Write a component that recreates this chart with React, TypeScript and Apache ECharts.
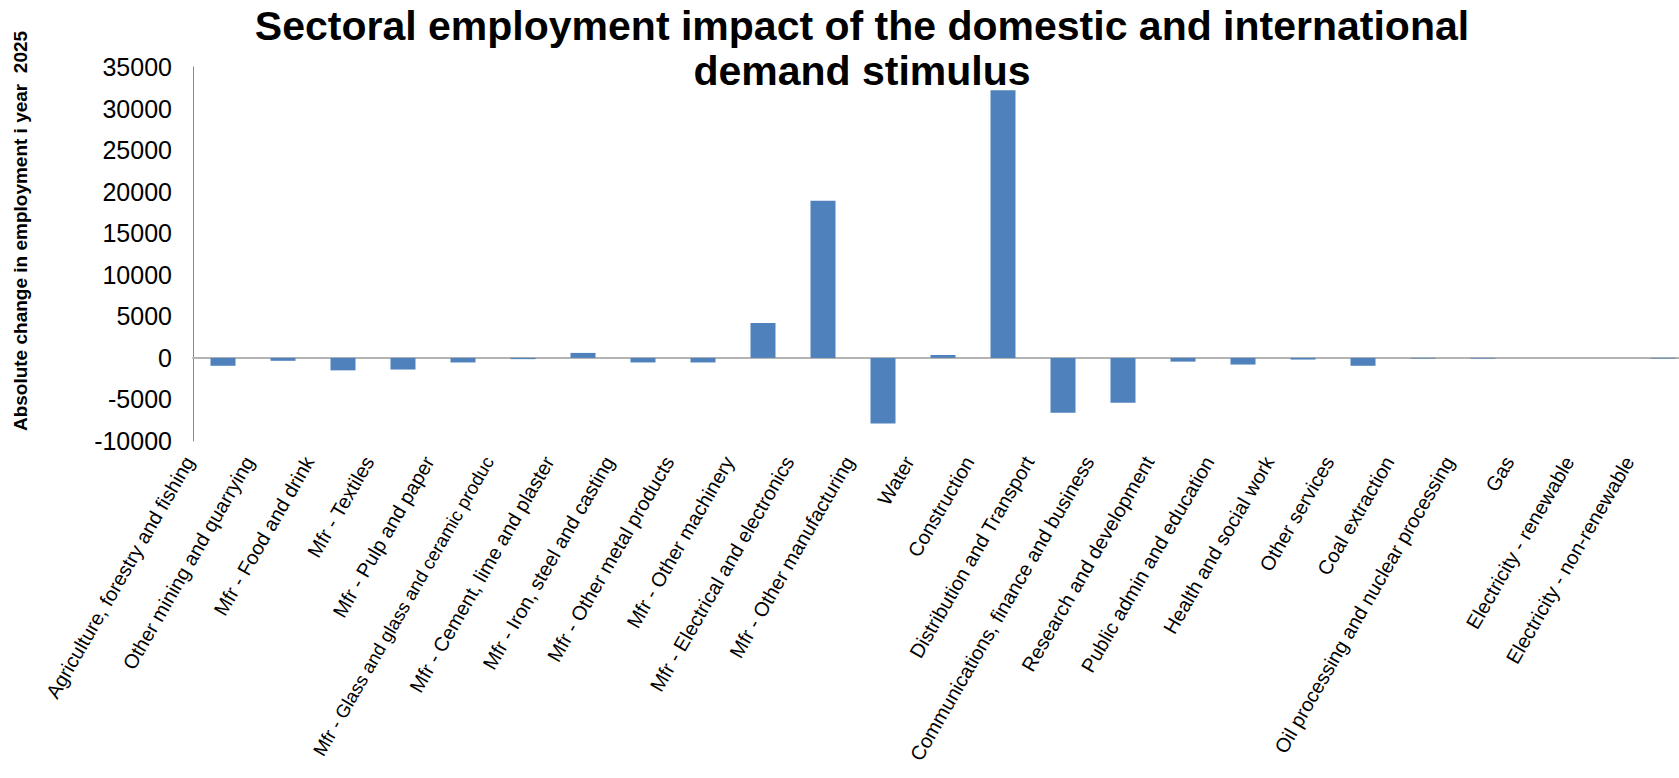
import React, { useEffect, useRef } from 'react';
import * as echarts from 'echarts';

const FONT = '"Liberation Sans", Arial, Helvetica, sans-serif';

const categories: string[] = [
  'Agriculture, forestry and fishing',
  'Other mining and quarrying',
  'Mfr - Food and drink',
  'Mfr - Textiles',
  'Mfr - Pulp and paper',
  'Mfr - Glass and glass and ceramic produc',
  'Mfr - Cement, lime and plaster',
  'Mfr - Iron, steel and casting',
  'Mfr - Other metal products',
  'Mfr - Other machinery',
  'Mfr - Electrical and electronics',
  'Mfr - Other manufacturing',
  'Water',
  'Construction',
  'Distribution and Transport',
  'Communications, finance and business',
  'Research and development',
  'Public admin and education',
  'Health and social work',
  'Other services',
  'Coal extraction',
  'Oil processing and nuclear processing',
  'Gas',
  'Electricity - renewable',
  'Electricity - non-renewable',
];

const employmentChange: number[] = [
  -950, -350, -1500, -1400, -550, -150, 600, -550, -550, 4200,
  18900, -7900, 350, 32200, -6600, -5400, -450, -800, -200, -950,
  -80, -80, 0, 0, -80,
];

const yMin = -10000;
const yMax = 35000;
const yInterval = 5000;

const titleText = 'Sectoral employment impact of the domestic and international\ndemand stimulus';
const yAxisName = 'Absolute change in employment i year  2025';

// longest label gets a slightly smaller font so it stays inside the picture
const longLabelIndex = 5;

export default function App() {
  const ref = useRef<HTMLDivElement>(null);
  useEffect(() => {
    if (!ref.current) return;
    const chart = echarts.init(ref.current, null, { renderer: 'svg' });
    const labelData = categories.map((c, i) =>
      i === longLabelIndex ? { value: c, textStyle: { fontSize: 18.5 } } : c
    );
    chart.setOption({
      animation: false,
      backgroundColor: '#ffffff',
      title: {
        text: titleText,
        left: 862,
        top: 3,
        textAlign: 'center',
        padding: 0,
        textStyle: {
          fontFamily: FONT,
          fontSize: 41,
          fontWeight: 'bold',
          color: '#000000',
          lineHeight: 45,
        },
      },
      grid: [
        { left: 193, right: -14, top: 67, bottom: 337, containLabel: false, outerBoundsMode: 'none' },
        { left: 159, right: 20, top: 67, bottom: 337, containLabel: false, outerBoundsMode: 'none' },
      ],
      xAxis: [
        {
          type: 'category',
          gridIndex: 0,
          data: categories,
          axisLine: { show: true, onZero: true, lineStyle: { color: '#b4b4b4', width: 2 } },
          axisTick: { show: false },
          axisLabel: { show: false },
          splitLine: { show: false },
        },
        {
          type: 'category',
          gridIndex: 1,
          data: labelData,
          position: 'bottom',
          axisLine: { show: false, onZero: false },
          axisTick: { show: false },
          splitLine: { show: false },
          axisLabel: {
            interval: 0,
            rotate: 60,
            margin: 17,
            fontSize: 20,
            fontFamily: FONT,
            color: '#000000',
          },
        },
      ],
      yAxis: [
        {
          type: 'value',
          gridIndex: 0,
          min: yMin,
          max: yMax,
          interval: yInterval,
          axisLine: { show: true, lineStyle: { color: '#898989', width: 1 } },
          axisTick: { show: false },
          splitLine: { show: false },
          axisLabel: {
            fontSize: 25,
            color: '#000000',
            margin: 21,
            fontFamily: FONT,
            formatter: (v: number) => String(v),
          },
          name: yAxisName,
          nameLocation: 'middle',
          nameGap: 163,
          nameTextStyle: {
            fontSize: 19,
            fontWeight: 'bold',
            color: '#000000',
            fontFamily: FONT,
            padding: [0, 0, 0, 46],
          },
        },
        {
          type: 'value',
          gridIndex: 1,
          min: yMin,
          max: yMax,
          interval: yInterval,
          show: false,
        },
      ],
      series: [
        {
          type: 'bar',
          xAxisIndex: 0,
          yAxisIndex: 0,
          data: employmentChange,
          barWidth: 25,
          itemStyle: { color: '#4F81BD' },
        },
      ],
    });
    return () => chart.dispose();
  }, []);
  return (
    <div
      ref={ref}
      style={{ position: 'fixed', left: 0, top: 0, width: 1679, height: 778 }}
    />
  );
}
